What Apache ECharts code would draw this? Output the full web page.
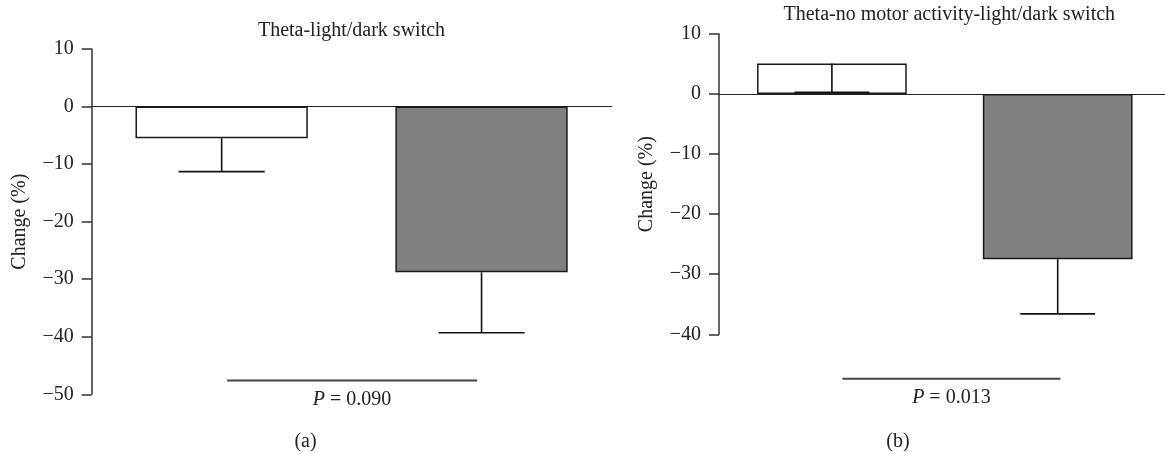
<!DOCTYPE html>
<html>
<head>
<meta charset="utf-8">
<script src="https://cdn.jsdelivr.net/npm/echarts@6/dist/echarts.min.js"></script>
<style>html,body{margin:0;padding:0;background:#fff;overflow:hidden}#c{width:1180px;height:452px}</style>
</head>
<body>
<div id="c"></div>
<script>
// ---- data ----
const categories = ['Light', 'Dark'];
const titles = ['Theta-light/dark switch', 'Theta-no motor activity-light/dark switch'];
const panelLabels = ['(a)', '(b)'];
const meansA = [-5.5, -28.8];
const errEndA = [-11.3, -39.3];
const meansB = [5.1, -27.5];
const errEndB = [0.3, -36.6];
const yMinA = -50, yMaxA = 10;
const yMinB = -40, yMaxB = 10;
const yStep = 10;
const sigLevel = [-47.6, -47.4];
const pValues = ['0.090', '0.013'];
const barFills = ['#ffffff', '#808080'];

const FONT = '"Liberation Serif", "DejaVu Serif", serif';
const INK = '#222';
const BARW = 0.663;
const FS = 20;

const grids = [
  {left: 91.7, top: 49, width: 519.8, height: 345.3},
  {left: 719, top: 34, width: 451.6, height: 300.3}
];
// significance bar ends, offsets as fraction of band width
const sigInset = [[0.021, -0.017], [0.0465, 0.012]];

function errSeries(idx, means, ends) {
  return {
    type: 'custom', xAxisIndex: idx, yAxisIndex: idx, z: 5, clip: false,
    data: means.map((m, i) => [i, m, ends[i]]),
    renderItem: function (params, api) {
      const i = api.value(0);
      const p0 = api.coord([i, api.value(1)]);
      const p1 = api.coord([i, api.value(2)]);
      const band = api.size([1, 0])[0];
      const half = band * BARW * 0.25;
      const st = {stroke: '#111', lineWidth: 1.6};
      return {type: 'group', children: [
        {type: 'line', shape: {x1: p0[0], y1: p0[1], x2: p1[0], y2: p1[1]}, style: st},
        {type: 'line', shape: {x1: p1[0] - half, y1: p1[1], x2: p1[0] + half, y2: p1[1]}, style: st}
      ]};
    }
  };
}

function sigSeries(idx) {
  return {
    type: 'custom', xAxisIndex: idx, yAxisIndex: idx, z: 5, clip: false,
    data: [[0, sigLevel[idx]]],
    renderItem: function (params, api) {
      const a = api.coord([0, api.value(1)]);
      const b = api.coord([1, api.value(1)]);
      const band = b[0] - a[0];
      const x1 = a[0] + band * sigInset[idx][0];
      const x2 = b[0] + band * sigInset[idx][1];
      const mid = (x1 + x2) / 2;
      return {type: 'group', children: [
        {type: 'line', shape: {x1: x1, y1: a[1], x2: x2, y2: a[1]},
          style: {stroke: '#444', lineWidth: 2}},
        {type: 'text', style: {
          text: '{i|P} = ' + pValues[idx], x: mid, y: a[1] + 19,
          align: 'center', verticalAlign: 'middle',
          fill: INK, font: FS + 'px ' + FONT,
          rich: {i: {fontStyle: 'italic', fontSize: FS, fontFamily: FONT, fill: INK}}
        }}
      ]};
    }
  };
}

function yAxisCfg(idx, min, max) {
  return {
    type: 'value', gridIndex: idx, min: min, max: max, interval: yStep,
    name: 'Change (%)', nameLocation: 'middle', nameGap: 62,
    nameTextStyle: {fontFamily: FONT, fontSize: FS, color: INK},
    axisLine: {show: true, lineStyle: {color: '#333', width: 1.5}},
    axisTick: {show: true, inside: false, length: 10, lineStyle: {color: '#333', width: 1.5}},
    axisLabel: {fontFamily: FONT, fontSize: FS, color: INK, margin: 18,
      formatter: v => String(v).replace('-', '\u2212')},
    splitLine: {show: false}
  };
}

function xAxisCfg(idx) {
  return {
    type: 'category', gridIndex: idx, data: categories,
    axisLine: {show: true, onZero: true, lineStyle: {color: '#222', width: 1.2}},
    axisTick: {show: false}, axisLabel: {show: false}, splitLine: {show: false}
  };
}

function barSeries(idx, means) {
  return {
    type: 'bar', xAxisIndex: idx, yAxisIndex: idx, barWidth: (BARW * 100) + '%', z: 3,
    data: means.map((m, i) => ({value: m, itemStyle: {color: barFills[i], borderColor: '#1a1a1a', borderWidth: 1.5}}))
  };
}

const chart = echarts.init(document.getElementById('c'), null, {renderer: 'canvas'});
chart.setOption({
  animation: false,
  backgroundColor: '#fff',
  grid: grids,
  xAxis: [xAxisCfg(0), xAxisCfg(1)],
  yAxis: [yAxisCfg(0, yMinA, yMaxA), yAxisCfg(1, yMinB, yMaxB)],
  series: [
    barSeries(0, meansA), barSeries(1, meansB),
    errSeries(0, meansA, errEndA), errSeries(1, meansB, errEndB),
    sigSeries(0), sigSeries(1)
  ],
  graphic: [
    {type: 'text', x: 351.5, y: 30.7, style: {text: titles[0], font: FS + 'px ' + FONT, fill: INK, align: 'center', verticalAlign: 'middle'}},
    {type: 'text', x: 949.3, y: 15, style: {text: titles[1], font: FS + 'px ' + FONT, fill: INK, align: 'center', verticalAlign: 'middle'}},
    {type: 'text', x: 305.5, y: 441.7, style: {text: panelLabels[0], font: FS + 'px ' + FONT, fill: INK, align: 'center', verticalAlign: 'middle'}},
    {type: 'text', x: 898, y: 441.7, style: {text: panelLabels[1], font: FS + 'px ' + FONT, fill: INK, align: 'center', verticalAlign: 'middle'}}
  ]
});
</script>
</body>
</html>
